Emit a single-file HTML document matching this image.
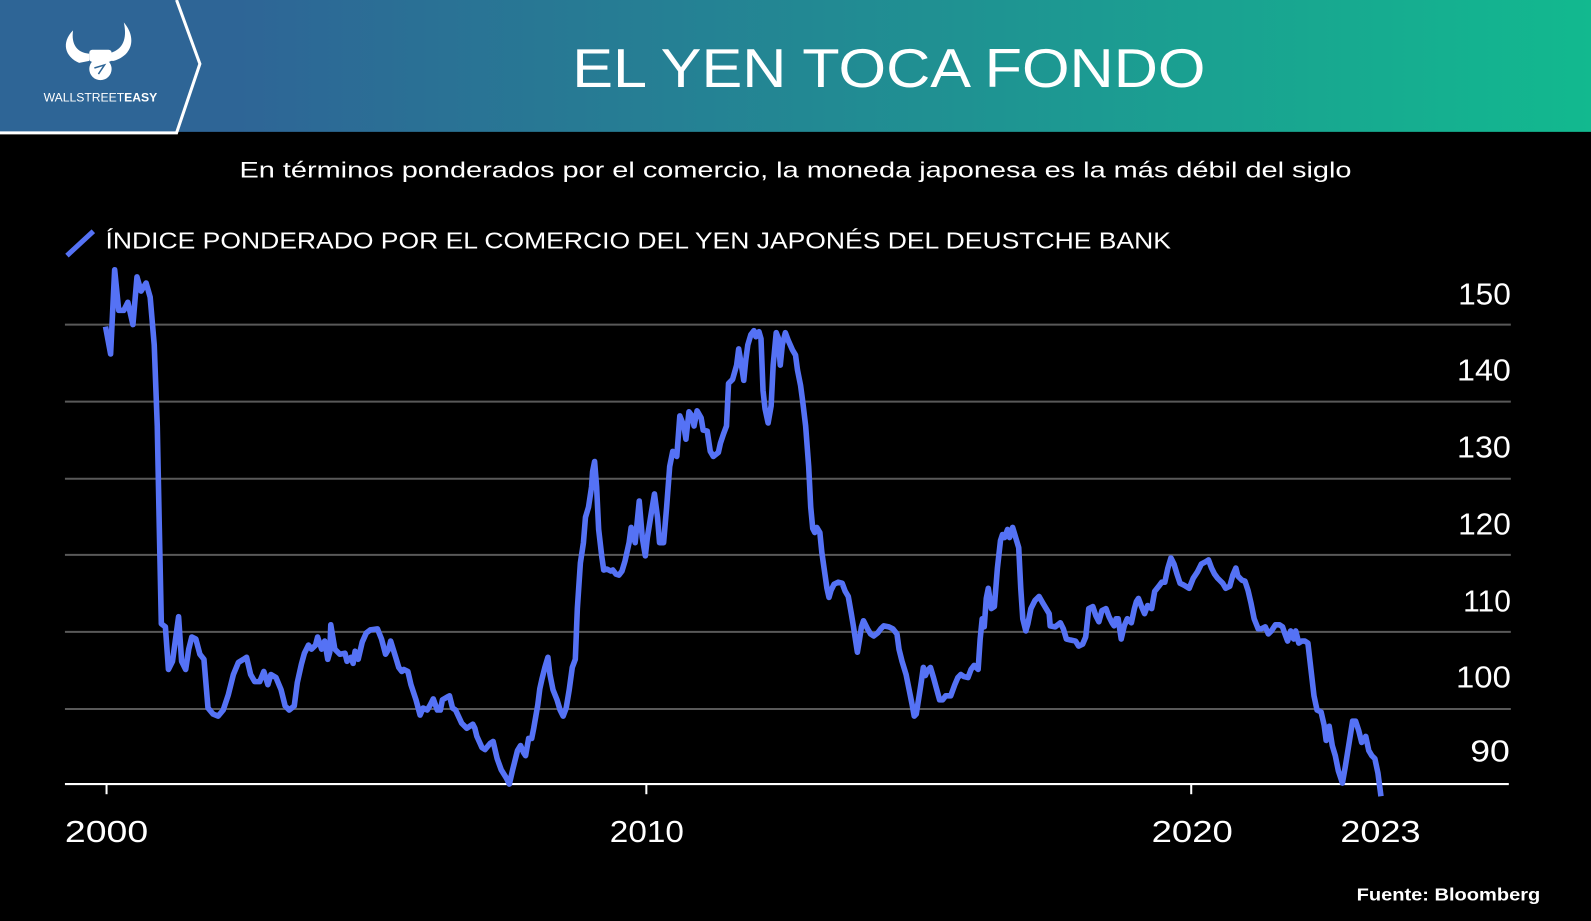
<!DOCTYPE html>
<html><head><meta charset="utf-8"><style>
html,body{margin:0;padding:0;background:#000;overflow:hidden}
svg{display:block}
text{font-family:"Liberation Sans",sans-serif}
</style></head><body>
<svg width="1591" height="921" viewBox="0 0 1568 908" preserveAspectRatio="none" xmlns="http://www.w3.org/2000/svg">
<defs><linearGradient id="g" x1="0" x2="1" y1="0" y2="0">
<stop offset="0" stop-color="#2e6596"/><stop offset="0.15" stop-color="#2e6596"/><stop offset="1" stop-color="#12b98f"/></linearGradient></defs>
<rect x="0" y="0" width="1568" height="908" fill="#000"/>
<rect x="0" y="0" width="1568" height="130" fill="url(#g)"/>
<polygon points="0,0 174,0 197,63 174,130 0,130" fill="#2e6596"/>
<polyline points="174,0 197,63 174,131 0,131" fill="none" stroke="#fff" stroke-width="3"/>
<path d="M72,30 C60,42 64,56 78,62 L88,60 L88,53 C76,52 70,44 72,30 Z" fill="#fff"/>
<path d="M122,22 C134,36 132,54 112,60 L106,60 L106,53 C120,50 126,40 122,22 Z" fill="#fff"/>
<rect x="88" y="49" width="22" height="12" rx="3" fill="#fff"/>
<circle cx="99" cy="68" r="11" fill="#fff"/>
<path d="M93,67 L103,64 L97,73" stroke="#2e6596" stroke-width="1.5" fill="none"/>
<text x="43" y="100" font-size="12" fill="#fff" textLength="112" lengthAdjust="spacingAndGlyphs">WALLSTREET<tspan font-weight="bold">EASY</tspan></text>
<text x="564" y="86" font-size="54" fill="#fff" textLength="624" lengthAdjust="spacingAndGlyphs">EL YEN TOCA FONDO</text>
<text x="236" y="175" font-size="22" fill="#fff" textLength="1096" lengthAdjust="spacingAndGlyphs">En términos ponderados por el comercio, la moneda japonesa es la más débil del siglo</text>
<line x1="66" y1="252" x2="92" y2="228" stroke="#5572f5" stroke-width="5"/>
<text x="104" y="245" font-size="23" fill="#fff" textLength="1050" lengthAdjust="spacingAndGlyphs">ÍNDICE PONDERADO POR EL COMERCIO DEL YEN JAPONÉS DEL DEUSTCHE BANK</text>
<g stroke="#595959" stroke-width="2">
<line x1="64" x2="1489" y1="320" y2="320"/><line x1="64" x2="1489" y1="396" y2="396"/>
<line x1="64" x2="1489" y1="472" y2="472"/><line x1="64" x2="1489" y1="547" y2="547"/>
<line x1="64" x2="1489" y1="623" y2="623"/><line x1="64" x2="1489" y1="699" y2="699"/>
</g>
<g fill="#fff" font-size="30" lengthAdjust="spacingAndGlyphs">
<text x="1437" y="300" textLength="52" lengthAdjust="spacingAndGlyphs">150</text><text x="1436" y="375" textLength="53" lengthAdjust="spacingAndGlyphs">140</text><text x="1436" y="451" textLength="53" lengthAdjust="spacingAndGlyphs">130</text>
<text x="1437" y="527" textLength="52" lengthAdjust="spacingAndGlyphs">120</text><text x="1442" y="603" textLength="47" lengthAdjust="spacingAndGlyphs">110</text><text x="1435" y="678" textLength="54" lengthAdjust="spacingAndGlyphs">100</text>
<text x="1449" y="751" textLength="39" lengthAdjust="spacingAndGlyphs">90</text></g>
<line x1="64" x2="1487" y1="773" y2="773" stroke="#fff" stroke-width="2"/>
<g stroke="#fff" stroke-width="2"><line x1="105" x2="105" y1="773" y2="783"/><line x1="637" x2="637" y1="773" y2="783"/><line x1="1174" x2="1174" y1="773" y2="783"/></g>
<g fill="#fff" font-size="30">
<text x="64" y="830" textLength="82" lengthAdjust="spacingAndGlyphs">2000</text><text x="601" y="830" textLength="73" lengthAdjust="spacingAndGlyphs">2010</text><text x="1135" y="830" textLength="80" lengthAdjust="spacingAndGlyphs">2020</text><text x="1321" y="830" textLength="79" lengthAdjust="spacingAndGlyphs">2023</text></g>
<text x="1337" y="888" font-size="17" fill="#fff" font-weight="bold" textLength="181" lengthAdjust="spacingAndGlyphs">Fuente: Bloomberg</text>
<polyline fill="none" stroke="#5572f5" stroke-width="5.5" stroke-linejoin="round" points="104,322 109,349 113,266 117,306 122,306 126,298 131,320 135,273 139,287 144,279 148,293 152,340 155,420 157,520 159,615 163,618 166,660 170,652 173,630 176,608 179,652 183,660 186,640 189,628 193,630 197,645 201,650 205,698 210,704 215,706 220,700 225,685 230,665 235,653 240,650 243,648 247,665 251,672 256,672 260,662 264,675 267,665 272,668 277,680 281,696 285,700 290,696 293,673 297,655 300,644 304,636 307,640 311,636 313,628 317,640 320,632 323,650 325,643 326,616 330,640 335,645 340,644 342,652 346,648 348,654 350,642 353,650 357,633 361,624 365,621 372,620 376,630 380,645 383,640 385,632 390,648 393,658 396,662 398,660 402,662 405,675 410,690 414,705 417,698 421,700 424,695 427,689 431,700 434,700 436,690 441,687 443,686 446,698 449,700 455,713 460,718 463,716 466,714 468,718 470,726 475,737 478,739 483,733 486,731 490,748 494,759 499,767 502,773 505,760 510,740 513,735 516,742 518,745 521,728 524,728 526,718 530,695 532,679 534,670 537,658 540,648 542,665 545,680 549,690 552,700 555,706 558,698 561,680 564,658 567,650 569,600 572,555 575,535 577,510 580,500 583,480 584,465 586,455 588,480 590,522 593,548 595,562 598,561 602,563 604,562 607,566 610,567 613,563 616,553 620,535 622,520 626,535 630,494 633,530 636,548 638,530 642,505 645,487 648,510 650,535 654,535 657,500 660,460 663,445 667,450 670,410 674,420 676,433 679,406 682,410 684,420 687,405 691,412 693,424 697,425 700,445 703,450 708,446 710,437 713,428 716,420 718,378 722,374 726,360 728,344 731,362 733,375 735,355 737,340 740,330 743,326 745,332 748,327 750,334 752,385 754,403 757,417 760,400 762,360 765,328 767,333 769,360 771,340 774,328 777,336 781,345 784,350 786,365 789,380 791,395 794,420 797,460 799,500 801,521 803,525 805,520 808,525 810,545 813,566 815,580 817,589 819,582 822,576 826,574 830,575 833,583 836,588 839,605 841,617 843,630 845,643 847,631 849,618 851,612 855,620 858,625 861,627 865,624 868,620 871,617 876,618 880,620 884,625 886,640 889,652 893,665 896,680 899,695 901,706 903,704 906,685 908,672 910,658 912,666 914,661 917,658 920,668 923,679 926,690 929,690 932,686 937,686 941,675 944,668 947,665 950,667 954,668 957,660 960,656 964,660 966,630 968,610 970,618 972,590 974,580 977,600 980,598 983,560 986,533 988,527 990,530 993,522 995,530 998,520 1001,530 1004,540 1006,580 1008,610 1011,622 1013,615 1016,600 1020,592 1024,588 1028,595 1031,600 1034,605 1035,617 1040,618 1045,614 1048,620 1051,630 1055,631 1060,632 1063,637 1067,635 1070,628 1073,600 1077,598 1080,607 1083,613 1086,602 1090,600 1093,608 1096,614 1098,617 1100,610 1102,610 1105,630 1108,617 1111,610 1115,614 1118,600 1120,593 1122,590 1125,598 1128,605 1131,597 1135,600 1138,583 1142,578 1145,574 1148,574 1151,560 1154,550 1157,556 1160,566 1163,575 1167,577 1172,580 1176,570 1180,564 1184,556 1188,554 1191,552 1194,560 1197,566 1200,570 1202,572 1205,575 1208,580 1212,578 1215,567 1218,560 1220,568 1224,572 1227,573 1230,582 1233,595 1236,610 1240,620 1243,620 1247,618 1250,625 1253,622 1257,616 1261,616 1264,618 1266,624 1269,632 1272,622 1275,630 1277,622 1280,634 1283,632 1286,632 1289,634 1292,660 1295,686 1298,700 1302,702 1305,715 1307,730 1310,716 1313,735 1316,745 1319,760 1323,772 1326,755 1330,730 1333,711 1336,711 1339,720 1342,732 1346,726 1349,740 1352,745 1355,748 1358,762 1361,785"/>
</svg>
</body></html>
